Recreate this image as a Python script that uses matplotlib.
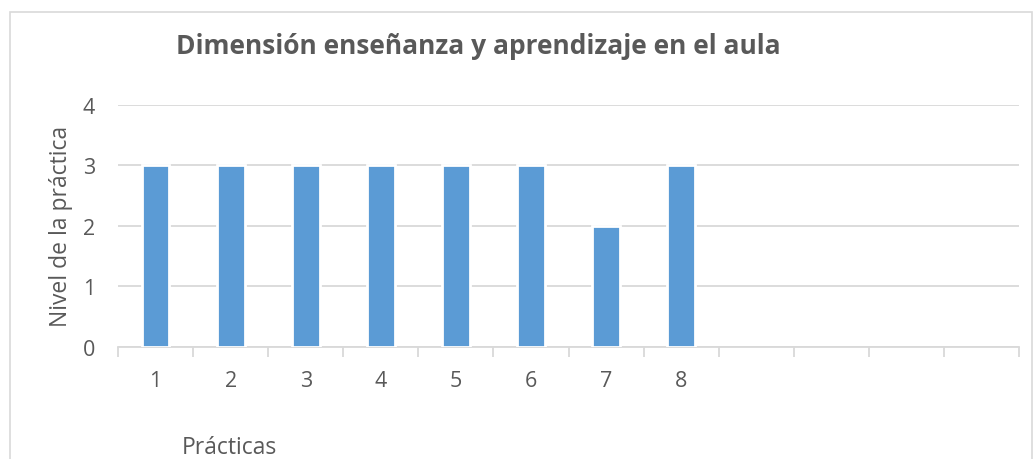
import matplotlib
matplotlib.use("Agg")
import matplotlib.pyplot as plt
from matplotlib.patches import Rectangle
from matplotlib.ticker import FixedLocator

# datos del gráfico
practicas = ["1", "2", "3", "4", "5", "6", "7", "8"]
nivel = [3, 3, 3, 3, 3, 3, 2, 3]
n_categorias = 12  # el eje deja 4 casillas vacías a la derecha
y_ticks = [0, 1, 2, 3, 4]

titulo = "Dimensión enseñanza y aprendizaje en el aula"
etiqueta_y = "Nivel de la práctica"
etiqueta_x = "Prácticas"

gris_texto = "#595959"
gris_linea = "#d9d9d9"
azul = "#5b9bd5"

plt.rcParams['font.family'] = ['Open Sans', 'DejaVu Sans']

W, H = 1034, 460
fig = plt.figure(figsize=(W / 100, H / 100), dpi=100)
ax = fig.add_axes([118 / W, 1 - 347.5 / H, (1019 - 118) / W, (347.5 - 106) / H])

x = list(range(len(practicas)))
ax.bar(x, nivel, width=0.37, color=azul, edgecolor='white', linewidth=2, zorder=3)

ax.set_xlim(-0.5, n_categorias - 0.5)
ax.set_ylim(0, 4)
ax.set_yticks(y_ticks)
ax.yaxis.grid(True, color=gris_linea, linewidth=1.3, zorder=0)
ax.tick_params(axis='y', length=0, pad=16.5, labelsize=15.5, labelcolor=gris_texto)

# marcas en los bordes de cada casilla, etiquetas en el centro
ax.xaxis.set_major_locator(FixedLocator([i - 0.5 for i in range(n_categorias + 1)]))
ax.xaxis.set_major_formatter(plt.NullFormatter())
ax.xaxis.set_minor_locator(FixedLocator(x))
ax.set_xticklabels(practicas, minor=True)
ax.tick_params(axis='x', which='major', length=7, width=1.3, color=gris_linea, direction='out')
ax.tick_params(axis='x', which='minor', length=0, pad=17, labelsize=15.5, labelcolor=gris_texto)

for lado in ['top', 'right', 'left']:
    ax.spines[lado].set_visible(False)
ax.spines['bottom'].set_color(gris_linea)
ax.spines['bottom'].set_linewidth(1.3)

fig.text(61 / W, 1 - 226.7 / H, etiqueta_y, rotation=90, ha='center', va='center',
         fontsize=16.5, color=gris_texto)
fig.text(478.5 / W, 1 - 47 / H, titulo, ha='center', va='center',
         fontsize=19, fontweight='bold', color=gris_texto)
fig.text(182 / W, 1 - 448 / H, etiqueta_x, ha='left', va='center',
         fontsize=16.5, color=gris_texto)

# borde del área del gráfico
fig.patches.append(Rectangle((10 / W, -0.1), (1032 - 10) / W, 1.1 - 13 / H,
                             transform=fig.transFigure, fill=False,
                             edgecolor=gris_linea, linewidth=1.2))

fig.savefig("out.png", dpi=100)
